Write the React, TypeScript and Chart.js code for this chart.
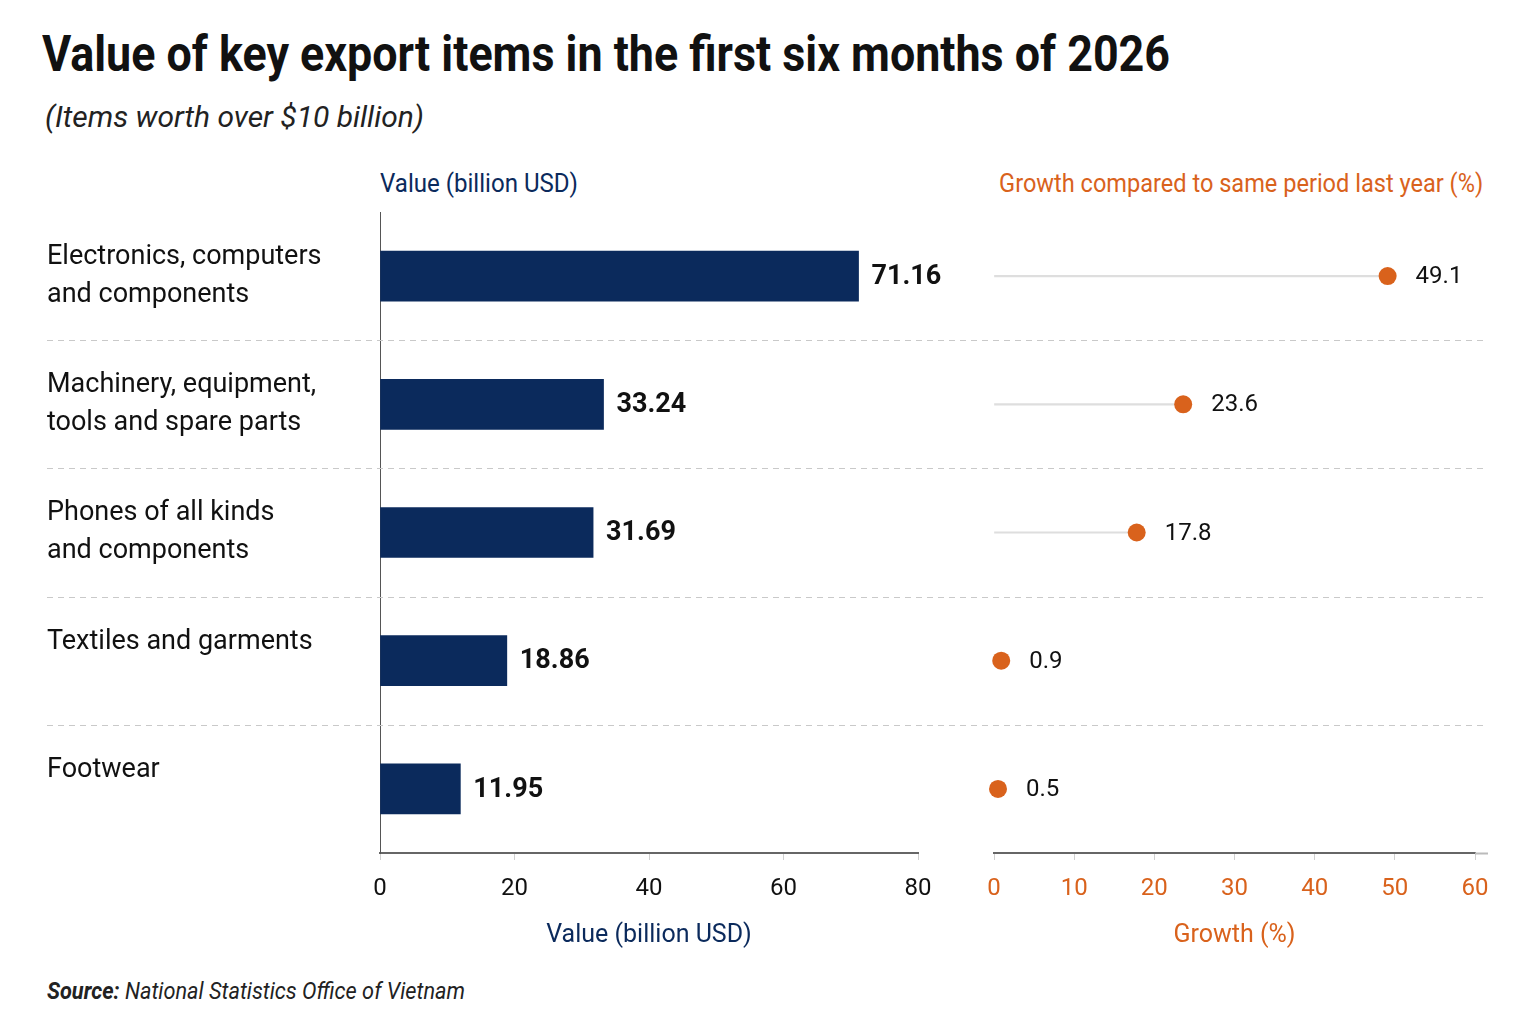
import React, { useEffect, useLayoutEffect, useRef } from "react";
import { Chart, registerables } from "chart.js";

Chart.register(...registerables);

const categories: string[][] = [
  ["Electronics, computers", "and components"],
  ["Machinery, equipment,", "tools and spare parts"],
  ["Phones of all kinds", "and components"],
  ["Textiles and garments", ""],
  ["Footwear", ""],
];
const exportValues: number[] = [71.16, 33.24, 31.69, 18.86, 11.95];
const growthValues: number[] = [49.1, 23.6, 17.8, 0.9, 0.5];
const valueTickMax = 80;
const growthTickMax = 60;

const NAVY = "#0b2a5c";
const ORANGE = "#d9621c";
const FONT = "Roboto, 'Noto Sans', sans-serif";

const PLOT_TOP = 212;
const AXIS_H = 107;
const CANVAS_TOP = 200;
const CANVAS_H = 760;

function FitText(props: { text: React.ReactNode; left?: number; right?: number; top: number; width: number; style: React.CSSProperties }) {
  const ref = useRef<HTMLDivElement>(null);
  useLayoutEffect(() => {
    const el = ref.current;
    if (!el) return;
    el.style.transform = "none";
    const w = el.getBoundingClientRect().width;
    if (w > 0) el.style.transform = `scaleX(${props.width / w})`;
  });
  const pos: React.CSSProperties = { position: "absolute", top: props.top, whiteSpace: "nowrap" };
  if (props.left !== undefined) { pos.left = props.left; pos.transformOrigin = "left top"; }
  else { pos.right = 1536 - (props.right as number); pos.transformOrigin = "right top"; }
  return <div ref={ref} style={{ ...pos, ...props.style }}>{props.text}</div>;
}

function separatorPlugin(x0: number, x1: number, extendAxis: number) {
  return {
    id: "separators",
    beforeDatasetsDraw(chart: any) {
      const y = chart.scales.y;
      const ctx = chart.ctx;
      ctx.save();
      ctx.strokeStyle = "#c9c9c9";
      ctx.lineWidth = 1.2;
      ctx.setLineDash([6, 5]);
      for (let i = 0; i < categories.length - 1; i++) {
        const py = Math.round((y.getPixelForValue(i) + y.getPixelForValue(i + 1)) / 2) + 0.5;
        ctx.beginPath();
        ctx.moveTo(x0, py);
        ctx.lineTo(x1, py);
        ctx.stroke();
      }
      ctx.restore();
      if (extendAxis > 0) {
        const a = chart.chartArea;
        ctx.save();
        ctx.strokeStyle = "#bbbbbb";
        ctx.lineWidth = 2;
        ctx.beginPath();
        ctx.moveTo(a.right, a.bottom + 0.5);
        ctx.lineTo(a.right + extendAxis, a.bottom + 0.5);
        ctx.stroke();
        ctx.restore();
      }
    },
  };
}

const barLabelPlugin = {
  id: "barLabels",
  afterDatasetsDraw(chart: any) {
    const ctx = chart.ctx;
    const meta = chart.getDatasetMeta(0);
    ctx.save();
    ctx.font = `bold 27px ${FONT}`;
    ctx.fillStyle = "#111";
    ctx.textAlign = "left";
    ctx.textBaseline = "middle";
    meta.data.forEach((el: any, i: number) => {
      ctx.fillText(exportValues[i].toFixed(2), el.x + 13, el.y + 1);
    });
    ctx.restore();
  },
};

const dotLabelPlugin = {
  id: "dotLabels",
  afterDatasetsDraw(chart: any) {
    const ctx = chart.ctx;
    const meta = chart.getDatasetMeta(1);
    ctx.save();
    ctx.font = `24px ${FONT}`;
    ctx.fillStyle = "#111";
    ctx.textAlign = "left";
    ctx.textBaseline = "middle";
    meta.data.forEach((el: any, i: number) => {
      ctx.fillText(growthValues[i].toFixed(1), el.x + 28, el.y + 1);
    });
    ctx.restore();
  },
};

const noPad = (s: any) => {
  s.paddingTop = 0;
  s.paddingBottom = 0;
};

export default function App() {
  const leftRef = useRef<HTMLCanvasElement>(null);
  const rightRef = useRef<HTMLCanvasElement>(null);

  useEffect(() => {
    const labels = categories;
    const left = new Chart(leftRef.current as HTMLCanvasElement, {
      type: "bar",
      data: {
        labels,
        datasets: [
          { data: exportValues, backgroundColor: NAVY, barThickness: 50, borderWidth: 0 },
        ],
      },
      options: {
        indexAxis: "y",
        animation: false,
        responsive: false,
        maintainAspectRatio: false,
        layout: { padding: { left: 47, top: PLOT_TOP - CANVAS_TOP, right: 42, bottom: 0 } },
        plugins: { legend: { display: false }, tooltip: { enabled: false }, title: { display: false } },
        scales: {
          x: {
            min: 0,
            max: valueTickMax,
            ticks: { stepSize: 20, color: "#111", font: { family: FONT, size: 24 }, padding: 15 },
            grid: { drawOnChartArea: false, drawTicks: true, tickLength: 7, color: "#d0d0d0" },
            border: { display: true, color: "#666", width: 2 },
            title: { display: true, text: "Value (billion USD)", color: NAVY, font: { family: FONT, size: 25 }, padding: { top: 0, bottom: 9 } },
            afterFit: (s: any) => { s.height = AXIS_H; },
          },
          y: {
            type: "category",
            offset: true,
            grid: { display: false },
            border: { display: true, color: "#555", width: 1 },
            ticks: { crossAlign: "far", color: "#111", font: { family: FONT, size: 27, lineHeight: 1.4 }, padding: 0, autoSkip: false },
            afterFit: (s: any) => { s.width = 333; noPad(s); },
          },
        },
      } as any,
      plugins: [separatorPlugin(47, 960, 0), barLabelPlugin],
    });

    const right = new Chart(rightRef.current as HTMLCanvasElement, {
      type: "bar",
      data: {
        labels,
        datasets: [
          { type: "bar", data: growthValues, backgroundColor: "#dedede", barThickness: 1.5, borderWidth: 0, order: 2 } as any,
          {
            type: "line",
            data: growthValues,
            showLine: false,
            clip: false,
            pointRadius: 9,
            pointHoverRadius: 9,
            pointBackgroundColor: ORANGE,
            pointBorderColor: ORANGE,
            pointBorderWidth: 0,
            borderColor: ORANGE,
            order: 1,
          } as any,
        ],
      },
      options: {
        indexAxis: "y",
        animation: false,
        responsive: false,
        maintainAspectRatio: false,
        layout: { padding: { left: 34, top: PLOT_TOP - CANVAS_TOP, right: 61, bottom: 0 } },
        plugins: { legend: { display: false }, tooltip: { enabled: false }, title: { display: false } },
        scales: {
          x: {
            min: 0,
            max: growthTickMax,
            ticks: { stepSize: 10, color: ORANGE, font: { family: FONT, size: 24 }, padding: 15 },
            grid: { drawOnChartArea: false, drawTicks: true, tickLength: 7, color: "#d0d0d0" },
            border: { display: true, color: "#666", width: 2 },
            title: { display: true, text: "Growth (%)", color: ORANGE, font: { family: FONT, size: 25 }, padding: { top: 0, bottom: 9 } },
            afterFit: (s: any) => { s.height = AXIS_H; },
          },
          y: {
            type: "category",
            offset: true,
            display: false,
            afterFit: noPad,
          },
        },
      } as any,
      plugins: [separatorPlugin(0, 528, 13), dotLabelPlugin],
    });

    return () => {
      left.destroy();
      right.destroy();
    };
  }, []);

  return (
    <div style={{ position: "absolute", left: 0, top: 0, width: 1536, height: 1024, background: "#fff", fontFamily: FONT, overflow: "hidden" }}>
      <FitText
        text="Value of key export items in the first six months of 2026"
        left={42}
        top={24}
        width={1128}
        style={{ fontSize: 50, fontWeight: 700, color: "#111", lineHeight: "60px" }}
      />
      <FitText
        text="(Items worth over $10 billion)"
        left={45}
        top={98}
        width={379}
        style={{ fontSize: 29, fontStyle: "italic", color: "#222", lineHeight: "38px" }}
      />
      <FitText
        text="Value (billion USD)"
        left={380}
        top={167}
        width={198}
        style={{ fontSize: 26, color: NAVY, lineHeight: "32px" }}
      />
      <FitText
        text="Growth compared to same period last year (%)"
        right={1483}
        top={167}
        width={484}
        style={{ fontSize: 26, color: ORANGE, lineHeight: "32px" }}
      />
      <canvas
        ref={leftRef}
        width={960}
        height={CANVAS_H}
        style={{ position: "absolute", left: 0, top: CANVAS_TOP, width: 960, height: CANVAS_H }}
      />
      <canvas
        ref={rightRef}
        width={576}
        height={CANVAS_H}
        style={{ position: "absolute", left: 960, top: CANVAS_TOP, width: 576, height: CANVAS_H }}
      />
      <FitText
        text={<span><b>Source:</b> National Statistics Office of Vietnam</span>}
        left={47}
        top={978}
        width={418}
        style={{ fontSize: 23, fontStyle: "italic", color: "#222", lineHeight: "28px" }}
      />
    </div>
  );
}
